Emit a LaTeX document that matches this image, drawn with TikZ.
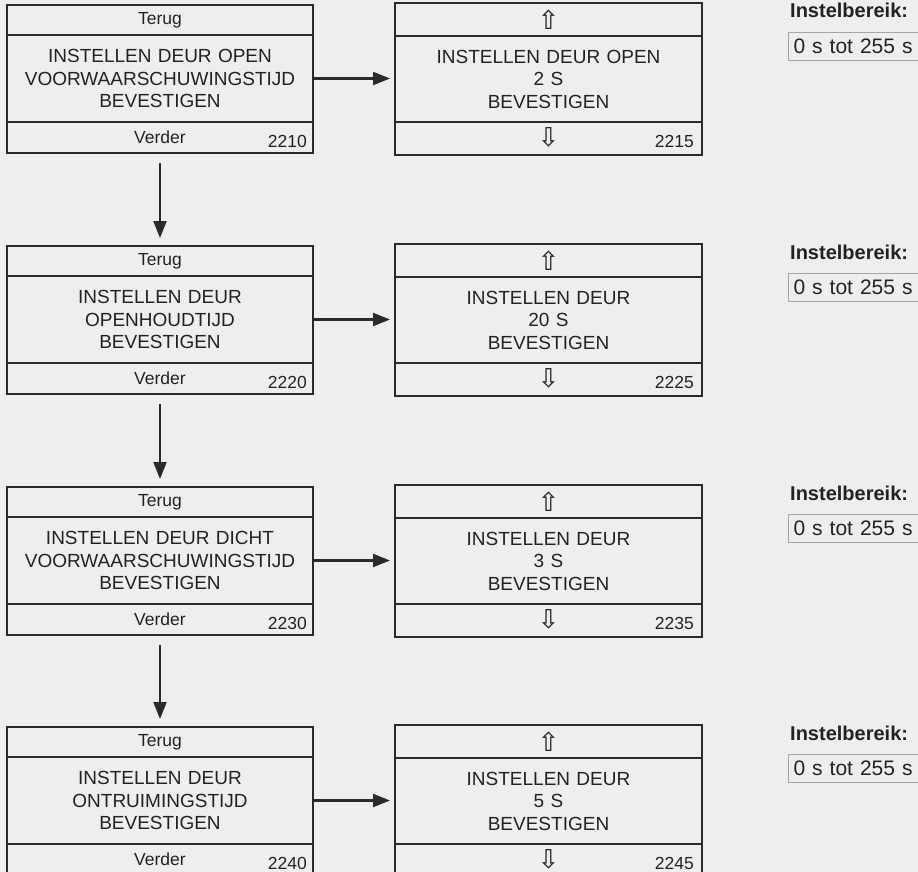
\documentclass[tikz,border=0pt]{standalone}
\usepackage{fontspec}
\setmainfont{Liberation Sans}
\newfontfamily\arrowglyphs{DejaVu Sans}
\usetikzlibrary{positioning,arrows.meta,calc}
\definecolor{PaperGray}{RGB}{237,239,238}
\definecolor{FrameDark}{RGB}{42,42,42}
\definecolor{InkDark}{RGB}{34,34,34}
\definecolor{RangeGray}{RGB}{165,165,165}
\tikzset{
  bar/.style={draw=FrameDark,line width=2pt,outer sep=0pt,inner sep=0pt,
              text=InkDark,font=\fontsize{17.5}{20}\selectfont},
  midtext/.style={bar,align=center,font=\fontsize{19}{22.5}\selectfont},
  glyphbar/.style={bar,font=\arrowglyphs\fontsize{26}{26}\selectfont},
  num/.style={inner sep=0pt,text=InkDark,font=\fontsize{17.5}{20}\selectfont},
  rangelabel/.style={inner sep=0pt,text=InkDark,
                     font=\fontsize{20}{22}\selectfont\bfseries},
  rangebox/.style={draw=RangeGray,line width=1pt,inner xsep=5pt,inner ysep=0pt,
                   minimum height=28pt,text width=150pt,align=left,text=InkDark,
                   font=\fontsize{21}{24}\selectfont},
  flow/.style={-{Triangle[length=17pt,width=13pt]},line width=2.3pt,draw=FrameDark},
}
\begin{document}
\begin{tikzpicture}[x=1pt,y=-1pt]
  \useasboundingbox (0,0) rectangle (918,872);
  \fill[PaperGray] (0,0) rectangle (918,872);
  \clip (0,0) rectangle (918,872);

  % one row: menu screen, value screen, setting range
  \foreach \y/\ln/\rn/\hA/\hB/\val in {
      5/2210/2215/INSTELLEN DEUR OPEN/VOORWAARSCHUWINGSTIJD/INSTELLEN DEUR OPEN\\2 S,
      246/2220/2225/INSTELLEN DEUR/OPENHOUDTIJD/INSTELLEN DEUR\\20 S,
      487/2230/2235/INSTELLEN DEUR DICHT/VOORWAARSCHUWINGSTIJD/INSTELLEN DEUR\\3 S,
      727/2240/2245/INSTELLEN DEUR/ONTRUIMINGSTIJD/INSTELLEN DEUR\\5 S}{
    % menu screen
    \node[bar,minimum width=306pt,minimum height=30pt,anchor=north west]
      (t\ln) at (7,\y) {Terug};
    \node[midtext,text width=306pt,minimum height=87pt,below=0pt of t\ln]
      (m\ln) {\hA\\\hB\\BEVESTIGEN};
    \node[bar,minimum width=306pt,minimum height=31pt,below=0pt of m\ln]
      (b\ln) {Verder};
    \node[num,anchor=base east] (n\ln) at ($(b\ln.south east)+(-6,-6)$) {\ln};
    % value screen
    \node[glyphbar,minimum width=307pt,minimum height=33pt,anchor=north west]
      (t\rn) at (395,\y-2) {⇧};
    \node[midtext,text width=307pt,minimum height=86pt,below=0pt of t\rn]
      (m\rn) {\val\\BEVESTIGEN};
    \node[glyphbar,minimum width=307pt,minimum height=33pt,below=0pt of m\rn]
      (b\rn) {\raisebox{2pt}{⇩}};
    \node[num,anchor=base east] (n\rn) at ($(b\rn.south east)+(-8,-8)$) {\rn};
    % range
    \node[rangelabel,anchor=base west] (l\rn) at (790,\y+13) {Instelbereik:};
    \node[rangebox,anchor=north west] (v\rn) at (788,\y+27) {0 s tot 255 s};

    \draw[flow,shorten >=5pt] (m\ln.east) -- (m\ln.east -| m\rn.west);
  }

  \foreach \a/\b in {2210/2220,2220/2230,2230/2240}
    \draw[flow,shorten <=10pt,shorten >=8pt] (b\a) -- (t\b);
\end{tikzpicture}
\end{document}
